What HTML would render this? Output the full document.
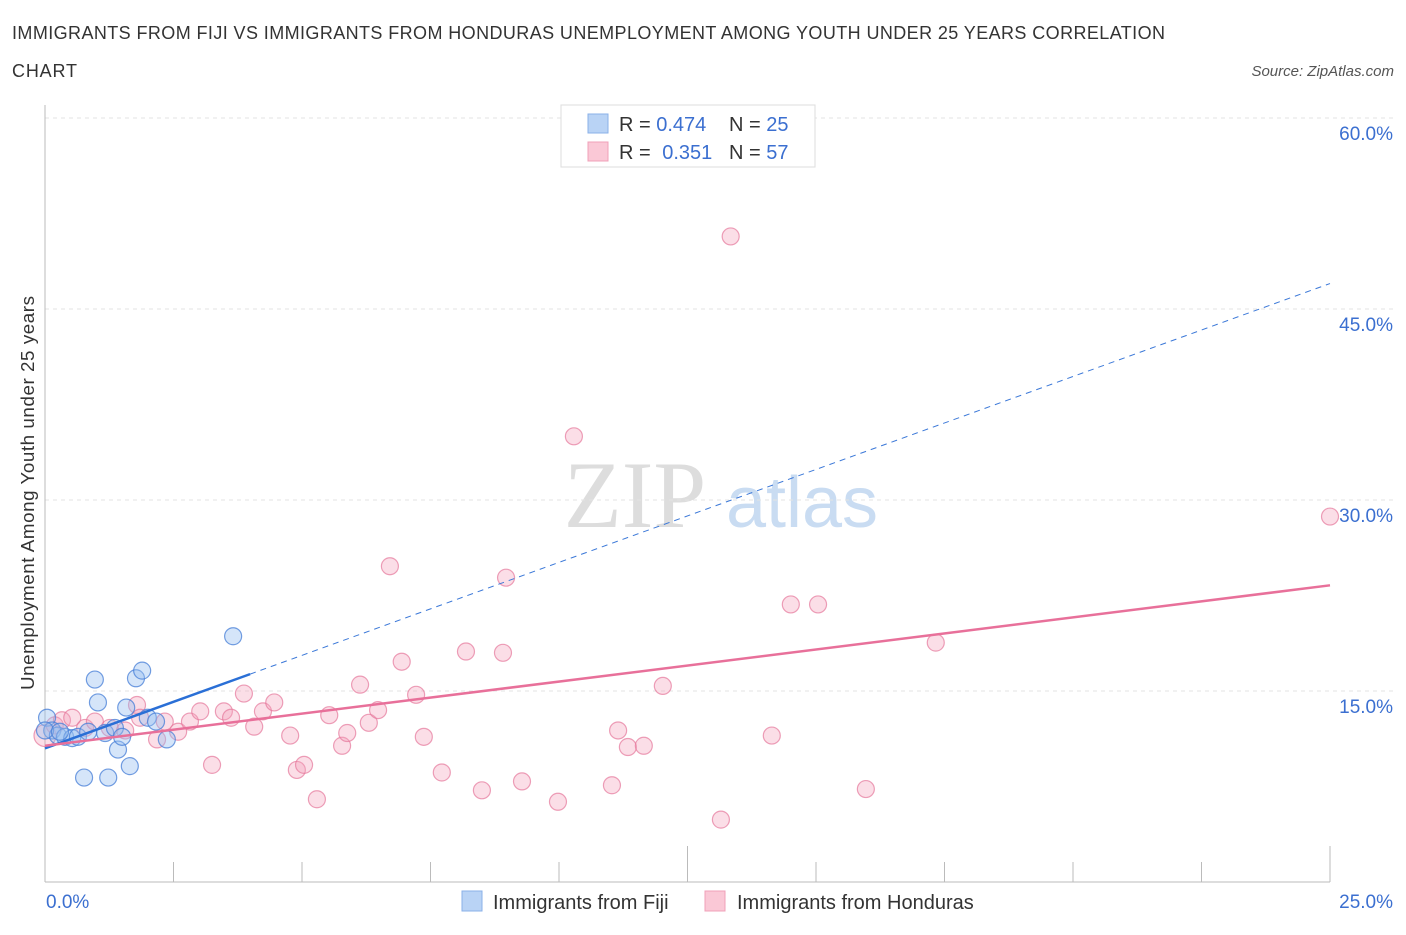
<!DOCTYPE html>
<html><head><meta charset="utf-8"><style>
body{margin:0;background:#fff;font-family:"Liberation Sans",sans-serif;}
</style></head><body>
<svg id="chart" width="1406" height="930" xmlns="http://www.w3.org/2000/svg" style="font-family:'Liberation Sans',sans-serif">
<text x="12" y="39" font-size="18" fill="#333" textLength="1153" lengthAdjust="spacing">IMMIGRANTS FROM FIJI VS IMMIGRANTS FROM HONDURAS UNEMPLOYMENT AMONG YOUTH UNDER 25 YEARS CORRELATION</text>
<text x="12" y="77" font-size="18" fill="#333" textLength="65" lengthAdjust="spacing">CHART</text>
<text x="1394" y="76" font-size="15" fill="#555" text-anchor="end" font-style="italic">Source: ZipAtlas.com</text>
<g>
<text x="635" y="527" font-size="95" fill="#ddd" font-family="Liberation Serif" text-anchor="middle">ZIP</text>
<text x="802" y="527" font-size="72" fill="#c9dcf2" text-anchor="middle">atlas</text>
</g>
<g id="grid"></g>
<g id="axes"></g>
<g id="marks"></g>
<text transform="translate(34,493) rotate(-90)" font-size="18.8" fill="#333" text-anchor="middle" textLength="394" lengthAdjust="spacing">Unemployment Among Youth under 25 years</text>
<g>
<rect x="561" y="105" width="254" height="62" fill="#fff" stroke="#ddd"/>
<rect x="588" y="114" width="20" height="19" fill="#b9d3f5" stroke="#8ab0e8"/>
<rect x="588" y="142" width="20" height="19" fill="#fac8d6" stroke="#f0a0b8"/>
<text x="619" y="131" font-size="20" fill="#333">R = <tspan fill="#3b6fd0">0.474</tspan></text>
<text x="729" y="131" font-size="20" fill="#333">N = <tspan fill="#3b6fd0">25</tspan></text>
<text x="619" y="159" font-size="20" fill="#333">R = <tspan fill="#3b6fd0" dx="6">0.351</tspan></text>
<text x="729" y="159" font-size="20" fill="#333">N = <tspan fill="#3b6fd0">57</tspan></text>
</g>
<g>
<rect x="462" y="891" width="20" height="20" fill="#b9d3f5" stroke="#8ab0e8"/>
<text x="493" y="909" font-size="20" fill="#333">Immigrants from Fiji</text>
<rect x="705" y="891" width="20" height="20" fill="#fac8d6" stroke="#f0a0b8"/>
<text x="737" y="909" font-size="20" fill="#333">Immigrants from Honduras</text>
</g>
</svg>
<script>
const fijiX=[0.04,0.14,0.25,0.39,0.53,0.64,0.84,0.97,1.03,1.17,1.36,1.42,1.50,1.58,1.65,1.77,1.89,2.00,2.16,2.37,3.66,0.76,1.23,0.0,0.29];
const fijiY=[12.9,11.9,11.5,11.4,11.3,11.4,11.8,15.9,14.1,11.7,12.1,10.4,11.4,13.7,9.1,16.0,16.6,12.9,12.6,11.2,19.3,8.2,8.2,11.9,11.8];
const hondX=[0.00,0.19,0.33,0.53,0.78,0.97,1.26,1.56,1.79,1.85,2.18,2.33,2.59,2.82,3.02,3.25,3.48,3.62,3.87,4.07,4.24,4.46,4.77,4.90,5.04,5.29,5.53,5.78,5.88,6.13,6.30,6.48,6.71,6.94,7.22,7.37,7.72,8.19,8.50,8.91,8.97,9.28,9.98,10.29,11.03,11.15,11.34,11.65,12.02,13.15,13.34,14.14,14.51,15.04,15.97,17.33,25.0];
const hondY=[11.5,12.3,12.7,12.9,12.1,12.6,12.1,11.9,13.9,12.9,11.2,12.6,11.8,12.6,13.4,9.2,13.4,12.9,14.8,12.2,13.4,14.1,11.5,8.8,9.2,6.5,13.1,10.7,11.7,15.5,12.5,13.5,24.8,17.3,14.7,11.4,8.6,18.1,7.2,18.0,23.9,7.9,6.3,35.0,7.6,11.9,10.6,10.7,15.4,4.9,50.7,11.5,21.8,21.8,7.3,18.8,28.7];
const fijiTrend=[10.5,47.0]; const fijiSolidEnd=3.99;
const hondTrend=[10.7,23.3];
const yTicks=[15,30,45,60];
const yTickLabels=["15.0%","30.0%","45.0%","60.0%"];
const xTickLabels=["0.0%","25.0%"];
const NS="http://www.w3.org/2000/svg";
const X0=45,X1=1330,Y0=882,YT=118;
const sx=v=>X0+(v/25)*(X1-X0);
const sy=v=>Y0-(v/60)*(Y0-YT);
function mk(tag,attrs,parent){const e=document.createElementNS(NS,tag);for(const k in attrs)e.setAttribute(k,attrs[k]);parent.appendChild(e);return e;}
const grid=document.getElementById('grid'),axes=document.getElementById('axes'),marks=document.getElementById('marks');
yTicks.forEach((t,i)=>{
 const l=mk('line',{x1:X0,x2:1395,y1:sy(t),y2:sy(t),stroke:'#e3e3e3','stroke-dasharray':'4,4'},grid);
 
 
 const tx=mk('text',{x:1393,y:sy(t)+22,'font-size':19,fill:'#3b6fd0','text-anchor':'end'},axes);
 tx.textContent=yTickLabels[i];
 
 
});
const ya=mk('line',{x1:X0,x2:X0,y1:105,y2:Y0,stroke:'#bbb'},axes);


const xa=mk('line',{x1:X0,x2:X1,y1:Y0,y2:Y0,stroke:'#bbb'},axes);


for(let i=0;i<=10;i++){const xv=i*2.5;const tk=mk('line',{x1:sx(xv),x2:sx(xv),y1:Y0,y2:Y0-(i%5==0?36:20),stroke:'#bbb'},axes);
 
 }
[[0,'start',46],[25,'end',1393]].forEach((p,i)=>{const t=mk('text',{x:p[2],y:908,'font-size':19,fill:'#3b6fd0','text-anchor':p[1]},axes);t.textContent=xTickLabels[i];
 
 });
hondX.forEach((x,i)=>{const c=mk('circle',{cx:sx(x),cy:sy(hondY[i]),r:i==0?11:8.5,fill:'rgba(244,160,185,0.35)',stroke:'rgba(230,120,155,0.7)','stroke-width':1.2},marks);
 
 });
fijiX.forEach((x,i)=>{const c=mk('circle',{cx:sx(x),cy:sy(fijiY[i]),r:8.5,fill:'rgba(150,190,240,0.4)',stroke:'rgba(70,125,215,0.75)','stroke-width':1.2},marks);
 
 });
const fy=x=>fijiTrend[0]+(fijiTrend[1]-fijiTrend[0])*x/25;
const fd=mk('line',{x1:sx(fijiSolidEnd),y1:sy(fy(fijiSolidEnd)),x2:sx(25),y2:sy(fijiTrend[1]),stroke:'#3b78d8','stroke-width':1,'stroke-dasharray':'6,5'},marks);


const fs=mk('line',{x1:sx(0),y1:sy(fijiTrend[0]),x2:sx(fijiSolidEnd),y2:sy(fy(fijiSolidEnd)),stroke:'#2a6fd6','stroke-width':2.5},marks);


const ht=mk('line',{x1:sx(0),y1:sy(hondTrend[0]),x2:sx(25),y2:sy(hondTrend[1]),stroke:'#e8709a','stroke-width':2.5},marks);


</script>
</body></html>
